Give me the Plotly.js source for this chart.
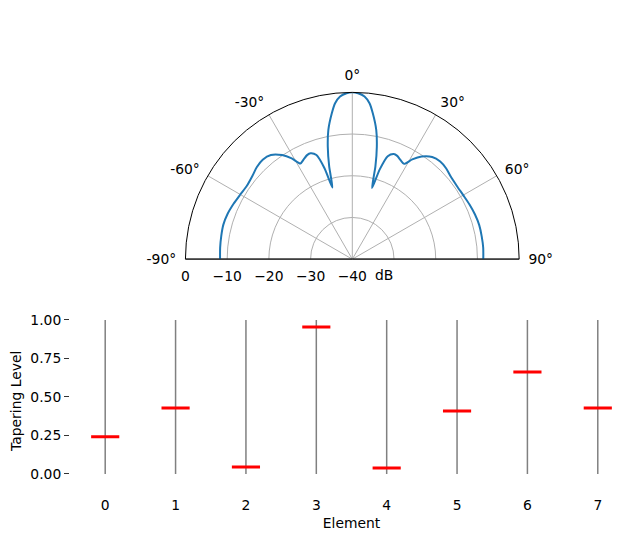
<!DOCTYPE html>
<html>
<head>
<meta charset="utf-8">
<script src="https://cdn.plot.ly/plotly-3.0.1.min.js"></script>
<style>html,body{margin:0;padding:0;background:#fff;}#chart{width:643px;height:543px;}</style>
</head>
<body>
<div id="chart"></div>
<script>
// Beam pattern (angle in degrees, gain in dB)
const patternAngles = [-90,-85,-80,-75,-70,-65,-60,-55,-50,-46,-42,-38,-34,-31,-28.5,-26,-23.5,-21.5,-19,-17,-15.5,-14,-12.3,-10.5,-8,-6.3,-4.3,-2,0,
                       2,4.3,6.3,8,10.5,12.3,14,15.5,17,19,21.5,23.5,26,28.5,31,34,38,42,46,50,55,60,65,70,75,80,85,90];
const patternDb = [-8.3,-8.2,-8.1,-8.0,-8.2,-8.6,-9.0,-9.2,-8.8,-8.2,-7.9,-8.3,-9.9,-11.8,-13.9,-13.4,-12.8,-12.7,-13.6,-17.2,-22.2,-17.1,-12.4,-8.5,-4.7,-2.4,-0.9,-0.2,0,
                   -0.2,-0.9,-2.4,-4.7,-8.5,-12.4,-17.1,-22.3,-17.5,-13.9,-12.9,-13.0,-13.6,-14.0,-12.1,-10.3,-8.9,-8.5,-8.7,-9.2,-9.4,-9.3,-9.0,-8.7,-8.5,-8.5,-8.5,-8.6];

// Angular / radial ticks
const angleTicks = [-90,-60,-30,0,30,60,90];
const angleTickText = ['-90°','-60°','-30°','0°','30°','60°','90°'];
const radialTicks = [-40,-30,-20,-10,0];
const radialTickText = ['\u221240','\u221230','\u221220','\u221210','0'];
const radialMin = -40, radialMax = 0;

// Tapering per element
const elements = [0,1,2,3,4,5,6,7];
const taper = [0.242,0.429,0.045,0.955,0.039,0.409,0.662,0.429];
const yTicks = [0,0.25,0.5,0.75,1];
const yTickText = ['0.00','0.25','0.50','0.75','1.00'];

const FONT = 'DejaVu Sans, sans-serif';
const traces = [];

// frame baseline of the half disc
traces.push({
  type:'scatterpolar', subplot:'polar',
  r:[radialMax, radialMin, radialMax], theta:[angleTicks[0], 0, angleTicks[angleTicks.length-1]],
  mode:'lines', line:{color:'black', width:1}, hoverinfo:'skip', showlegend:false
});
traces.push({
  type:'scatterpolar', subplot:'polar',
  r:patternDb, theta:patternAngles, mode:'lines',
  line:{color:'#1f77b4', width:2, shape:'spline', smoothing:0.7},
  showlegend:false
});

// stems
const sx = [], sy = [];
elements.forEach(e => { sx.push(e, e, null); sy.push(0, 1, null); });
traces.push({type:'scatter', x:sx, y:sy, mode:'lines', line:{color:'#808080', width:1.5},
  xaxis:'x', yaxis:'y', showlegend:false, hoverinfo:'skip'});
const rx = [], ry = [];
elements.forEach((e,i) => { rx.push(e-0.2, e+0.2, null); ry.push(taper[i], taper[i], null); });
traces.push({type:'scatter', x:rx, y:ry, mode:'lines', line:{color:'red', width:3},
  xaxis:'x', yaxis:'y', showlegend:false});

const layout = {
  width:643, height:543,
  margin:{l:0, r:0, t:0, b:0},
  paper_bgcolor:'white', plot_bgcolor:'white',
  font:{family:FONT, size:13.89, color:'black'},
  polar:{
    domain:{x:[0.2882,0.8076], y:[0.5227,0.830]},
    sector:[0,180],
    bgcolor:'white',
    angularaxis:{
      rotation:90, direction:'clockwise', thetaunit:'degrees',
      tickmode:'array', tickvals:angleTicks, ticktext:angleTickText,
      showline:true, linecolor:'black', linewidth:1,
      showgrid:true, gridcolor:'#b0b0b0', gridwidth:1,
      ticks:'outside', ticklen:6, tickcolor:'rgba(0,0,0,0)',
      tickfont:{family:FONT, size:13.89, color:'black'}
    },
    radialaxis:{
      range:[radialMin, radialMax], angle:180, side:'counterclockwise',
      tickmode:'array', tickvals:radialTicks, ticktext:radialTickText,
      showline:false, showgrid:true, gridcolor:'#b0b0b0', gridwidth:1,
      ticks:'outside', ticklen:2, tickcolor:'rgba(0,0,0,0)',
      tickangle:180, tickfont:{family:FONT, size:13.89, color:'black'}
    }
  },
  xaxis:{
    domain:[0.1089,0.9844], range:[-0.5,7.5], anchor:'y',
    tickmode:'array', tickvals:elements,
    showline:false, zeroline:false, showgrid:false, ticks:'',
    ticklabelstandoff:6,
    title:{text:'Element', font:{family:FONT, size:13.89}, standoff:5}
  },
  yaxis:{
    domain:[0.0987,0.4249], range:[-0.1,1.05], anchor:'x',
    tickmode:'array', tickvals:yTicks, ticktext:yTickText,
    showline:false, zeroline:false, showgrid:false,
    ticks:'outside', ticklen:5, tickcolor:'#333', tickwidth:1,
    title:{text:'Tapering Level', font:{family:FONT, size:13.89}, standoff:5}
  },
  annotations:[{
    xref:'paper', yref:'paper', x:(384/643), y:(543-275)/543,
    text:'dB', showarrow:false, textangle:0, font:{family:FONT, size:13.89, color:'black'},
    xanchor:'center', yanchor:'middle'
  }]
};

Plotly.newPlot('chart', traces, layout, {displayModeBar:false, staticPlot:true});
</script>
</body>
</html>
